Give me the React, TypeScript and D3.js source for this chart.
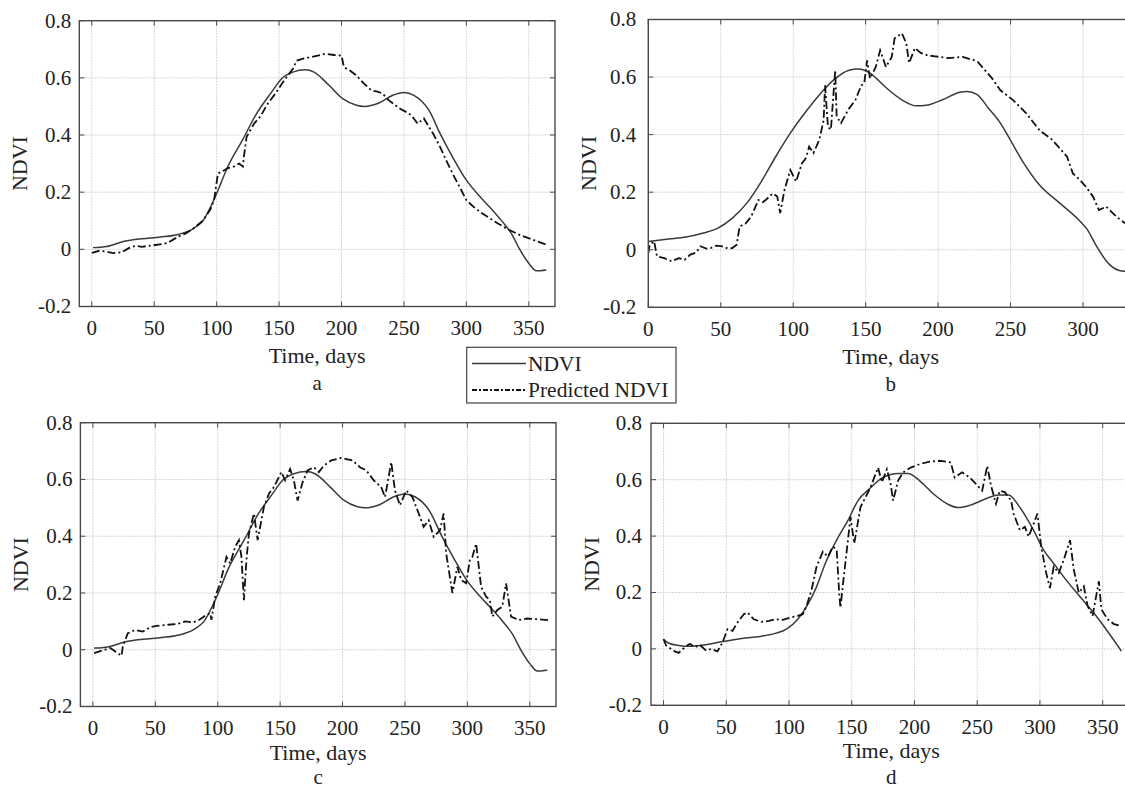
import React, { useRef, useEffect } from "react";
import * as d3 from "d3";

// tick values and labels shared by all four panels
const xTicks = [0, 50, 100, 150, 200, 250, 300, 350];
const yTicks = [-0.2, 0, 0.2, 0.4, 0.6, 0.8];
const yTickLabels = ["-0.2", "0", "0.2", "0.4", "0.6", "0.8"];

// measured NDVI, [day, value] - same curve for panels a and c
const ndviAC: [number, number][] = [
  [1, 0.006], [12, 0.01], [26, 0.028], [40, 0.037], [55, 0.043], [69, 0.052], [81, 0.072], [89, 0.1],
  [99, 0.185], [109, 0.29], [121, 0.385], [132, 0.475], [144, 0.55], [152, 0.597], [161, 0.62], [171, 0.628],
  [178, 0.62], [190, 0.574], [201, 0.527], [212, 0.504], [218, 0.5], [230, 0.512], [241, 0.539], [250, 0.549],
  [258, 0.539], [270, 0.487], [279, 0.405], [289, 0.323], [300, 0.242], [311, 0.184], [321, 0.137], [329, 0.096],
  [336, 0.056], [343, -0.002], [350, -0.049], [356, -0.075], [364, -0.072],
];
const ndviB: [number, number][] = [
  [0, 0.029], [14, 0.037], [26, 0.044], [38, 0.058], [48, 0.075], [58, 0.11], [68, 0.162], [78, 0.237],
  [88, 0.324], [98, 0.405], [108, 0.475], [118, 0.538], [128, 0.59], [138, 0.623], [145, 0.628], [153, 0.614],
  [163, 0.568], [175, 0.521], [185, 0.5], [193, 0.503], [203, 0.521], [215, 0.547], [220, 0.55], [227, 0.539],
  [235, 0.49], [243, 0.44], [250, 0.38], [258, 0.31], [270, 0.225], [284, 0.162], [297, 0.104], [303, 0.07],
  [309, 0.015], [318, -0.05], [325, -0.072], [330, -0.075],
];
const ndviD: [number, number][] = [
  [0, 0.033], [4, 0.021], [12, 0.012], [21, 0.009], [32, 0.014], [47, 0.026], [61, 0.036], [75, 0.043],
  [89, 0.055], [98, 0.07], [107, 0.105], [115, 0.158], [121, 0.21], [129, 0.304], [138, 0.386], [147, 0.456],
  [155, 0.526], [164, 0.567], [175, 0.608], [187, 0.622], [195, 0.622], [204, 0.597], [215, 0.55], [227, 0.512],
  [235, 0.501], [244, 0.509], [255, 0.529], [267, 0.546], [275, 0.546], [284, 0.502], [295, 0.42], [303, 0.35],
  [311, 0.303], [321, 0.244], [332, 0.185], [343, 0.127], [353, 0.068], [365, -0.008],
];

// predicted NDVI per panel
const predA: [number, number][] = [
  [0, -0.012], [6, -0.005], [12, -0.008], [17, -0.013], [24, -0.01], [30, 0.005], [35, 0.012], [40, 0.009],
  [49, 0.014], [56, 0.018], [61, 0.023], [69, 0.044], [75, 0.055], [81, 0.072], [89, 0.1], [95, 0.14],
  [98, 0.174], [101, 0.265], [104, 0.272], [109, 0.284], [114, 0.29], [118, 0.3], [121, 0.29], [122, 0.33],
  [124, 0.394], [130, 0.44], [135, 0.465], [141, 0.51], [147, 0.545], [155, 0.597], [161, 0.631], [164, 0.66],
  [170, 0.668], [175, 0.672], [181, 0.678], [187, 0.684], [194, 0.68], [200, 0.678], [202, 0.637], [207, 0.625],
  [212, 0.608], [218, 0.58], [224, 0.556], [229, 0.552], [233, 0.545], [238, 0.521], [243, 0.505], [247, 0.492],
  [252, 0.48], [256, 0.469], [261, 0.44], [266, 0.458], [270, 0.429], [274, 0.4], [279, 0.358], [284, 0.31],
  [289, 0.265], [295, 0.215], [300, 0.172], [306, 0.148], [311, 0.131], [321, 0.102], [332, 0.073], [343, 0.05],
  [354, 0.032], [365, 0.015],
];
const predB: [number, number][] = [
  [0, -0.012], [1, 0.017], [4, 0.03], [6, -0.023], [11, -0.029], [16, -0.04], [21, -0.029], [25, -0.035],
  [29, -0.017], [33, -0.01], [36, 0.012], [40, 0.004], [43, 0.006], [47, 0.014], [51, 0.012], [55, 0.004],
  [58, 0.006], [61, 0.017], [63, 0.081], [67, 0.09], [71, 0.115], [76, 0.173], [79, 0.165], [81, 0.173],
  [86, 0.196], [89, 0.185], [91, 0.127], [94, 0.208], [98, 0.277], [102, 0.237], [106, 0.3], [109, 0.32],
  [111, 0.358], [114, 0.336], [118, 0.382], [121, 0.45], [122, 0.571], [124, 0.427], [126, 0.417], [129, 0.624],
  [130, 0.462], [133, 0.44], [138, 0.487], [143, 0.521], [147, 0.571], [149, 0.577], [151, 0.658], [153, 0.595],
  [157, 0.635], [160, 0.693], [164, 0.635], [168, 0.67], [170, 0.735], [175, 0.752], [178, 0.718], [180, 0.649],
  [184, 0.701], [188, 0.684], [193, 0.675], [198, 0.672], [207, 0.666], [217, 0.67], [227, 0.655], [232, 0.626],
  [237, 0.597], [243, 0.554], [252, 0.519], [261, 0.473], [270, 0.415], [279, 0.381], [289, 0.323], [293, 0.265],
  [298, 0.242], [302, 0.219], [307, 0.184], [311, 0.138], [316, 0.15], [323, 0.115], [329, 0.092],
];
const predC: [number, number][] = [
  [1, -0.012], [8, -0.002], [14, 0.006], [18, -0.006], [23, -0.021], [24, 0.012], [28, 0.058], [34, 0.07],
  [40, 0.064], [46, 0.08], [51, 0.084], [60, 0.088], [68, 0.091], [74, 0.1], [80, 0.096], [85, 0.105],
  [91, 0.123], [94, 0.129], [95, 0.105], [98, 0.187], [102, 0.234], [107, 0.327], [110, 0.304], [114, 0.363],
  [117, 0.386], [119, 0.327], [121, 0.175], [123, 0.316], [125, 0.409], [129, 0.48], [132, 0.386], [137, 0.503],
  [141, 0.55], [145, 0.573], [151, 0.626], [154, 0.597], [158, 0.637], [161, 0.597], [164, 0.526], [168, 0.59],
  [172, 0.632], [177, 0.643], [181, 0.626], [185, 0.649], [191, 0.667], [199, 0.676], [208, 0.667], [214, 0.643],
  [219, 0.632], [225, 0.597], [231, 0.573], [234, 0.538], [236, 0.585], [239, 0.661], [242, 0.561], [246, 0.509],
  [251, 0.561], [256, 0.538], [261, 0.48], [265, 0.433], [269, 0.456], [273, 0.398], [278, 0.421], [281, 0.48],
  [283, 0.34], [288, 0.2], [292, 0.292], [295, 0.246], [299, 0.234], [302, 0.316], [304, 0.327], [307, 0.374],
  [311, 0.222], [315, 0.187], [318, 0.175], [320, 0.117], [324, 0.14], [328, 0.152], [331, 0.234], [335, 0.117],
  [341, 0.105], [348, 0.11], [355, 0.108], [367, 0.103],
];
const predD: [number, number][] = [
  [0, 0.035], [2, 0.012], [6, 0], [9, -0.009], [12, -0.014], [17, 0.006], [21, 0.018], [25, 0.006],
  [29, 0.014], [34, -0.006], [38, 0], [43, -0.009], [47, 0.023], [51, 0.07], [55, 0.064], [59, 0.094],
  [64, 0.123], [67, 0.129], [72, 0.105], [78, 0.096], [84, 0.099], [89, 0.105], [95, 0.103], [101, 0.111],
  [107, 0.117], [111, 0.123], [114, 0.152], [118, 0.21], [122, 0.292], [127, 0.345], [131, 0.327], [135, 0.363],
  [138, 0.351], [140, 0.199], [141, 0.146], [144, 0.269], [147, 0.386], [149, 0.468], [152, 0.374], [157, 0.503],
  [161, 0.538], [165, 0.573], [169, 0.62], [171, 0.643], [174, 0.591], [178, 0.637], [181, 0.585], [183, 0.526],
  [187, 0.597], [191, 0.626], [197, 0.643], [204, 0.655], [212, 0.664], [221, 0.667], [229, 0.661], [232, 0.608],
  [238, 0.626], [244, 0.608], [249, 0.585], [254, 0.561], [258, 0.649], [261, 0.579], [265, 0.515], [268, 0.561],
  [272, 0.556], [277, 0.526], [279, 0.48], [284, 0.421], [288, 0.433], [291, 0.398], [295, 0.444], [298, 0.48],
  [301, 0.363], [305, 0.269], [308, 0.216], [311, 0.292], [315, 0.269], [319, 0.316], [324, 0.386], [327, 0.281],
  [331, 0.199], [335, 0.222], [338, 0.152], [342, 0.117], [347, 0.24], [349, 0.14], [354, 0.105], [359, 0.088],
  [364, 0.082],
];

const panels = [
  { id: "a", left: 79.3, right: 555, top: 20.7, bottom: 306.5, xMin: -10, xMax: 371, ndvi: ndviAC, pred: predA, gap: 8, titleY: 362.7, letterY: 390 },
  { id: "b", left: 648.3, right: 1133, top: 19.5, bottom: 307.3, xMin: 0, xMax: 334.5, ndvi: ndviB, pred: predB, gap: 12, titleY: 364, letterY: 391 },
  { id: "c", left: 80.4, right: 556, top: 422.7, bottom: 706.5, xMin: -10, xMax: 371, ndvi: ndviAC, pred: predC, gap: 8, titleY: 759.5, letterY: 784 },
  { id: "d", left: 651, right: 1131.5, top: 423.3, bottom: 705.3, xMin: -10, xMax: 373, ndvi: ndviD, pred: predD, gap: 9, titleY: 758, letterY: 784 },
];

const FONT = "'Liberation Serif', 'Times New Roman', 'DejaVu Serif', serif";
const DASHDOT = "8,3,2,3";

function App() {
  const ref = useRef<SVGSVGElement>(null);

  useEffect(() => {
    const svg = d3.select(ref.current);
    svg.selectAll("*").remove();

    panels.forEach(p => {
      const x = d3.scaleLinear().domain([p.xMin, p.xMax]).range([p.left, p.right]);
      const y = d3.scaleLinear().domain([-0.2, 0.8]).range([p.bottom, p.top]);
      const ticks = xTicks.filter(t => t <= p.xMax);
      const g = svg.append("g");

      g.append("clipPath").attr("id", "clip-" + p.id)
        .append("rect")
        .attr("x", p.left).attr("y", p.top)
        .attr("width", p.right - p.left).attr("height", p.bottom - p.top);

      // grid
      g.selectAll(".vg").data(ticks).join("line")
        .attr("x1", d => x(d)).attr("x2", d => x(d))
        .attr("y1", p.top).attr("y2", p.bottom)
        .attr("stroke", "#d4d4d4").attr("stroke-width", 1).attr("stroke-dasharray", "2,1");
      g.selectAll(".hg").data(yTicks).join("line")
        .attr("x1", p.left).attr("x2", p.right)
        .attr("y1", d => y(d)).attr("y2", d => y(d))
        .attr("stroke", "#d4d4d4").attr("stroke-width", 1).attr("stroke-dasharray", "2,1");

      // lines
      const solid = d3.line<[number, number]>()
        .x(d => x(d[0])).y(d => y(d[1]))
        .curve(d3.curveMonotoneX);
      const rough = d3.line<[number, number]>()
        .x(d => x(d[0])).y(d => y(d[1]));

      g.append("path").datum(p.ndvi)
        .attr("clip-path", `url(#clip-${p.id})`)
        .attr("fill", "none").attr("stroke", "#3a3a3a").attr("stroke-width", 1.5)
        .attr("d", solid);
      g.append("path").datum(p.pred)
        .attr("clip-path", `url(#clip-${p.id})`)
        .attr("fill", "none").attr("stroke", "#111").attr("stroke-width", 1.8)
        .attr("stroke-dasharray", DASHDOT)
        .attr("d", rough);

      // box + inward ticks
      g.append("rect")
        .attr("x", p.left).attr("y", p.top)
        .attr("width", p.right - p.left).attr("height", p.bottom - p.top)
        .attr("fill", "none").attr("stroke", "#4a4a4a").attr("stroke-width", 1.4);
      ticks.forEach(t => {
        g.append("line").attr("x1", x(t)).attr("x2", x(t)).attr("y1", p.bottom).attr("y2", p.bottom - 5)
          .attr("stroke", "#4a4a4a");
        g.append("line").attr("x1", x(t)).attr("x2", x(t)).attr("y1", p.top).attr("y2", p.top + 5)
          .attr("stroke", "#4a4a4a");
      });
      yTicks.forEach(t => {
        g.append("line").attr("x1", p.left).attr("x2", p.left + 5).attr("y1", y(t)).attr("y2", y(t))
          .attr("stroke", "#4a4a4a");
        g.append("line").attr("x1", p.right).attr("x2", p.right - 5).attr("y1", y(t)).attr("y2", y(t))
          .attr("stroke", "#4a4a4a");
      });

      // tick labels
      g.selectAll(".xl").data(ticks).join("text")
        .attr("x", d => x(d)).attr("y", p.bottom + 28.5)
        .attr("text-anchor", "middle")
        .attr("font-family", FONT).attr("font-size", 21).attr("fill", "#222")
        .text(d => String(d));
      g.selectAll(".yl").data(yTicks).join("text")
        .attr("x", p.left - p.gap).attr("y", d => y(d)).attr("dy", "0.33em")
        .attr("text-anchor", "end")
        .attr("font-family", FONT).attr("font-size", 21).attr("fill", "#222")
        .text((d, i) => yTickLabels[i]);

      // axis titles
      const cx = (p.left + p.right) / 2;
      g.append("text").attr("x", cx).attr("y", p.titleY)
        .attr("text-anchor", "middle")
        .attr("font-family", FONT).attr("font-size", 22).attr("fill", "#222")
        .text("Time, days");
      g.append("text").attr("x", cx).attr("y", p.letterY)
        .attr("text-anchor", "middle")
        .attr("font-family", FONT).attr("font-size", 21).attr("fill", "#222")
        .text(p.id);
      g.append("text")
        .attr("transform", `translate(${p.left - 52},${(p.top + p.bottom) / 2}) rotate(-90)`)
        .attr("text-anchor", "middle")
        .attr("font-family", FONT).attr("font-size", 22).attr("fill", "#222")
        .text("NDVI");
    });

    // legend
    const lg = svg.append("g");
    lg.append("rect")
      .attr("x", 466.7).attr("y", 347.3).attr("width", 209.3).attr("height", 55.7)
      .attr("fill", "white").attr("stroke", "#444").attr("stroke-width", 1.2);
    lg.append("line").attr("x1", 472).attr("x2", 526).attr("y1", 363.5).attr("y2", 363.5)
      .attr("stroke", "#3a3a3a").attr("stroke-width", 1.5);
    lg.append("line").attr("x1", 472).attr("x2", 526).attr("y1", 390).attr("y2", 390)
      .attr("stroke", "#111").attr("stroke-width", 1.8).attr("stroke-dasharray", "5,2,2,2");
    lg.append("text").attr("x", 528).attr("y", 371)
      .attr("font-family", FONT).attr("font-size", 21.5).attr("fill", "#222")
      .text("NDVI");
    lg.append("text").attr("x", 528).attr("y", 397)
      .attr("font-family", FONT).attr("font-size", 21.5).attr("fill", "#222")
      .text("Predicted NDVI");
  }, []);

  return (
    <svg ref={ref} width={1125} height={789}
      style={{ position: "absolute", left: 0, top: 0, background: "white" }} />
  );
}

export default App;
